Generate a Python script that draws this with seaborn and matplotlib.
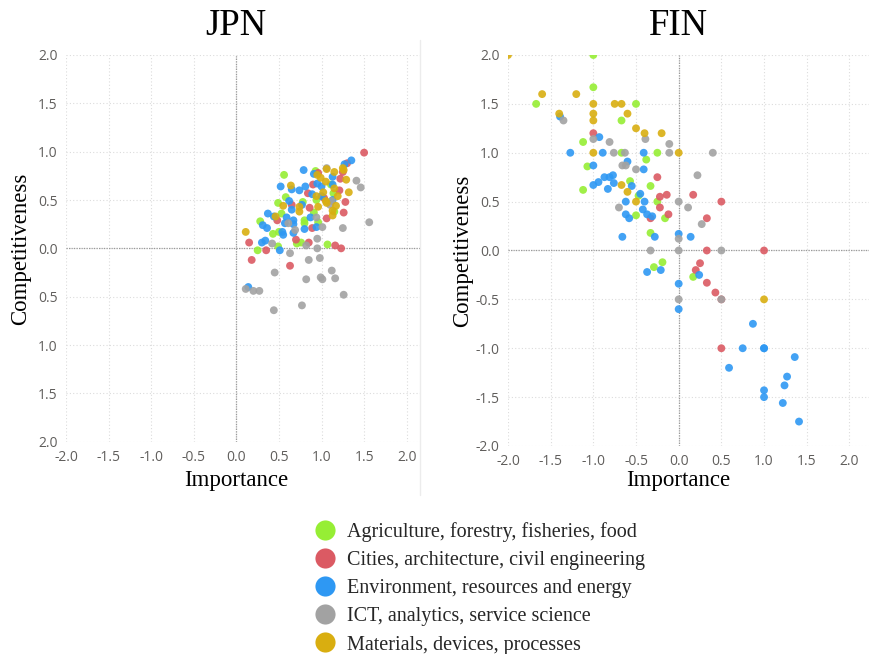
import matplotlib
matplotlib.use("Agg")
import matplotlib.pyplot as plt
from matplotlib.lines import Line2D
import pandas as pd
import seaborn as sns

# ---------------------------------------------------------------- data
categories = [
    "Agriculture, forestry, fisheries, food",
    "Cities, architecture, civil engineering",
    "Environment, resources and energy",
    "ICT, analytics, service science",
    "Materials, devices, processes",
]
palette = ["#96EE34", "#DB5A63", "#2E98F3", "#A2A2A2", "#D9AE10"]

# JPN
jpn_agri_x = [0.56, 0.93, 1.11, 0.58, 0.49, 0.53, 0.78, 0.94, 0.91, 0.96, 0.80,
              0.80, 0.28, 0.43, 0.50, 0.76, 0.71, 0.49, 0.25, 1.07, 1.15, 1.14]
jpn_agri_y = [0.76, 0.80, 0.66, 0.53, 0.47, 0.36, 0.48, 0.50, 0.37, 0.27, 0.29,
              0.26, 0.28, 0.15, 0.17, 0.06, 0.05, 0.02, -0.02, 0.04, 0.38, 0.57]
jpn_city_x = [1.50, 1.30, 1.25, 1.22, 0.96, 0.90, 0.84, 1.21, 1.28, 1.26, 1.06, 0.86,
              0.65, 0.48, 0.89, 0.70, 0.85, 1.16, 1.23, 0.15, 0.35, 0.18, 0.63, 1.03]
jpn_city_y = [0.99, 0.88, 0.79, 0.72, 0.78, 0.66, 0.57, 0.60, 0.48, 0.37, 0.31, 0.42,
              0.45, 0.29, 0.21, 0.09, 0.06, 0.03, 0.00, 0.06, -0.02, -0.12, -0.18, 0.52]
jpn_env_x = [1.35, 1.27, 0.79, 0.91, 1.13, 0.52, 0.65, 0.74, 0.81, 0.95, 1.00, 1.13,
             0.89, 1.00, 0.62, 1.13, 0.65, 0.37, 0.44, 0.77, 0.31, 0.36, 0.59, 0.57,
             0.67, 0.67, 0.54, 0.55, 0.67, 0.80, 0.87, 0.94, 0.30, 0.34, 0.51, 0.14]
jpn_env_y = [0.91, 0.87, 0.81, 0.77, 0.74, 0.64, 0.61, 0.60, 0.64, 0.67, 0.64, 0.66,
             0.56, 0.54, 0.49, 0.50, 0.40, 0.36, 0.33, 0.45, 0.24, 0.21, 0.32, 0.26,
             0.29, 0.25, 0.17, 0.14, 0.16, 0.20, 0.32, 0.22, 0.06, 0.08, -0.02, -0.40]
jpn_ict_x = [1.06, 1.41, 1.46, 1.56, 1.25, 1.12, 1.10, 0.94, 1.01, 0.61, 0.69, 0.95,
             0.95, 0.42, 0.82, 0.63, 0.85, 0.98, 0.45, 1.12, 1.16, 0.82, 0.99, 1.01,
             1.26, 0.77, 0.44, 0.11, 0.20, 0.27]
jpn_ict_y = [0.83, 0.70, 0.63, 0.27, 0.21, 0.49, 0.45, 0.32, 0.22, 0.26, 0.19, 0.10,
             0.00, 0.05, 0.03, -0.05, -0.12, -0.10, -0.25, -0.23, -0.31, -0.32, -0.30, -0.32,
             -0.48, -0.59, -0.64, -0.42, -0.44, -0.44]
jpn_mat_x = [0.11, 0.64, 0.55, 0.46, 0.74, 0.74, 0.95, 1.06, 1.15, 1.25, 1.26, 1.29,
             1.32, 1.02, 1.05, 0.94, 0.96, 1.05, 1.06, 1.15, 1.19, 1.13, 1.17, 1.13, 0.99]
jpn_mat_y = [0.17, 0.65, 0.44, 0.33, 0.43, 0.38, 0.76, 0.82, 0.79, 0.83, 0.81, 0.71,
             0.58, 0.58, 0.69, 0.54, 0.43, 0.49, 0.47, 0.62, 0.54, 0.39, 0.44, 0.34, 0.73]

# FIN
fin_agri_x = [-1.00, -1.00, -1.67, -0.50, -0.67, -1.12, -0.67, -0.25, -0.38, -1.07, -1.12,
              -0.57, -0.33, -0.47, -0.25, -0.50, -0.16, -0.33, -0.19, -0.29, 0.17]
fin_agri_y = [2.00, 1.67, 1.50, 1.50, 1.33, 1.11, 1.00, 1.00, 0.93, 0.86, 0.62,
              0.71, 0.66, 0.56, 0.50, 0.36, 0.33, 0.18, -0.12, -0.17, -0.27]
fin_city_x = [-1.00, -0.25, -0.22, -0.14, 0.17, 0.50, -0.22, -0.12, -0.33, 0.33,
              0.33, 1.00, 0.25, 0.20, 0.33, 0.43, 0.50, 0.50]
fin_city_y = [1.20, 0.75, 0.55, 0.57, 0.57, 0.50, 0.44, 0.37, 0.33, 0.33,
              0.00, 0.00, -0.13, -0.20, -0.33, -0.43, -0.50, -1.00]
fin_env_x = [-1.39, -0.93, -1.27, -0.89, -0.41, -1.00, -0.60, -0.41, -0.87, -0.81, -0.77,
             -0.94, -1.00, -0.76, -0.83, -0.55, -0.45, -0.62, -0.40, -0.42, -0.62, -0.58,
             -0.37, -0.31, -0.66, -0.28, 0.00, 0.14, -0.37, -0.21, 0.24, 0.00, 0.00,
             0.87, 0.75, 1.00, 1.00, 1.36, 0.59, 1.27, 1.24, 1.00, 1.00, 1.22, 1.41]
fin_env_y = [1.37, 1.16, 1.00, 1.00, 1.00, 0.87, 0.91, 0.83, 0.75, 0.75, 0.77,
             0.70, 0.67, 0.69, 0.63, 0.66, 0.58, 0.50, 0.50, 0.42, 0.37, 0.33,
             0.37, 0.35, 0.14, 0.14, 0.17, 0.14, -0.22, -0.20, -0.25, -0.34, -0.60,
             -0.75, -1.00, -1.00, -1.00, -1.09, -1.20, -1.29, -1.38, -1.43, -1.50, -1.56, -1.75]
fin_ict_x = [-1.35, -0.39, -0.11, -1.00, -0.81, -0.76, -0.63, -0.11, 0.40, -0.66, -0.62,
             -0.50, 0.22, 0.00, 0.11, -0.70, 0.27, 0.00, -0.33, 0.00, 0.50, 0.00, 0.50]
fin_ict_y = [1.33, 1.14, 1.09, 1.14, 1.11, 1.00, 1.00, 1.00, 1.00, 0.87, 0.87,
             0.83, 0.77, 0.50, 0.44, 0.44, 0.27, 0.12, 0.00, 0.00, 0.00, -0.50, -0.50]
fin_mat_x = [-2.00, -1.60, -1.20, -1.00, -0.75, -0.67, -1.40, -1.00, -1.00, -0.60,
             -0.50, -0.40, -0.20, -1.00, 0.00, -0.67, -0.60, -0.50, 1.00]
fin_mat_y = [2.00, 1.60, 1.60, 1.50, 1.50, 1.50, 1.40, 1.40, 1.33, 1.40,
             1.25, 1.20, 1.20, 1.00, 1.00, 0.67, 0.60, 0.50, -0.50]

tick_values = [-2.0, -1.5, -1.0, -0.5, 0.0, 0.5, 1.0, 1.5, 2.0]
x_tick_labels = ["-2.0", "-1.5", "-1.0", "-0.5", "0.0", "0.5", "1.0", "1.5", "2.0"]
jpn_y_tick_labels = ["2.0", "1.5", "1.0", "0.5", "0.0", "0.5", "1.0", "1.5", "2.0"]
fin_y_tick_labels = ["-2.0", "-1.5", "-1.0", "-0.5", "0.0", "0.5", "1.0", "1.5", "2.0"]


def frame(xs, ys):
    rows = []
    for cat, x, y in zip(categories, xs, ys):
        rows.append(pd.DataFrame({"Importance": x, "Competitiveness": y, "Area": cat}))
    return pd.concat(rows, ignore_index=True)


jpn = frame([jpn_agri_x, jpn_city_x, jpn_env_x, jpn_ict_x, jpn_mat_x],
            [jpn_agri_y, jpn_city_y, jpn_env_y, jpn_ict_y, jpn_mat_y])
fin = frame([fin_agri_x, fin_city_x, fin_env_x, fin_ict_x, fin_mat_x],
            [fin_agri_y, fin_city_y, fin_env_y, fin_ict_y, fin_mat_y])

# ---------------------------------------------------------------- style
sns.set_theme(style="white")
plt.rcParams["font.family"] = ["Open Sans", "DejaVu Sans"]
SERIF = "Liberation Serif"
TICK_COLOR = "#605E5C"

W, H = 869, 654
fig = plt.figure(figsize=(W / 100, H / 100), dpi=100)


def box(left, top, right, bottom):
    return [left / W, 1 - bottom / H, (right - left) / W, (bottom - top) / H]


ax_j = fig.add_axes(box(66, 55, 420, 441.7))
ax_f = fig.add_axes(box(508, 55, 869, 446))

color_map = dict(zip(categories, palette))

# axes, data, title, x-range, y tick labels, x-label offset (pt)
panels = [
    (ax_j, jpn, "JPN", (-2.0, 2.156), jpn_y_tick_labels, -28),
    (ax_f, fin, "FIN", (-2.0, 2.23), fin_y_tick_labels, -25),
]

for ax, df, title, xlim, ylabels, xlab_off in panels:
    ax.set_xlim(*xlim)
    ax.set_ylim(-2.0, 2.0)
    ax.set_xticks(tick_values)
    ax.set_xticklabels(x_tick_labels)
    ax.set_yticks(tick_values)
    ax.set_yticklabels(ylabels)
    ax.grid(True, linestyle=(0, (1, 2)), color="#dcdcdc", linewidth=0.8)
    ax.set_axisbelow(True)
    ax.axhline(0, color="#9a9a9a", linestyle=(0, (1, 1)), linewidth=0.9, zorder=1)
    ax.axvline(0, color="#9a9a9a", linestyle=(0, (1, 1)), linewidth=0.9, zorder=1)

    sns.scatterplot(data=df, x="Importance", y="Competitiveness", hue="Area",
                    hue_order=categories, palette=color_map, s=32, alpha=0.9,
                    linewidth=0, legend=False, ax=ax, zorder=3)

    for s in ax.spines.values():
        s.set_visible(False)
    ax.tick_params(axis="both", length=0, pad=6, labelsize=10, labelcolor=TICK_COLOR)
    ax.set_xlabel("")
    ax.set_ylabel("")

    ax.annotate(title, xy=(0, 1), xycoords=("data", "axes fraction"),
                xytext=(0, 21), textcoords="offset points", ha="center", va="center",
                fontsize=26.5, family=SERIF, color="black")
    ax.annotate("Importance", xy=(0, 0), xycoords=("data", "axes fraction"),
                xytext=(0, xlab_off), textcoords="offset points", ha="center", va="center",
                fontsize=16.5, family=SERIF, color="black")
    ax.annotate("Competitiveness", xy=(0, 0), xycoords=("axes fraction", "data"),
                xytext=(-33, 0), textcoords="offset points", ha="center", va="center",
                rotation=90, fontsize=16.5, family=SERIF, color="black")

# faint divider at the right edge of the first panel
fig.add_artist(Line2D([420 / W, 420 / W], [1 - 40 / H, 1 - 495 / H],
                      transform=fig.transFigure, color="#ececec", linewidth=1))

handles = [Line2D([0], [0], marker="o", linestyle="none", markersize=14.5,
                  markerfacecolor=c, markeredgewidth=0) for c in palette]
fig.legend(handles, categories, loc="upper left",
           bbox_to_anchor=(311 / W, 1 - 522 / H), frameon=False,
           prop={"family": SERIF, "size": 14.5}, handlelength=1.4,
           handletextpad=0.4, labelspacing=0.45, borderpad=0, borderaxespad=0)

fig.savefig("out.png", dpi=100)
